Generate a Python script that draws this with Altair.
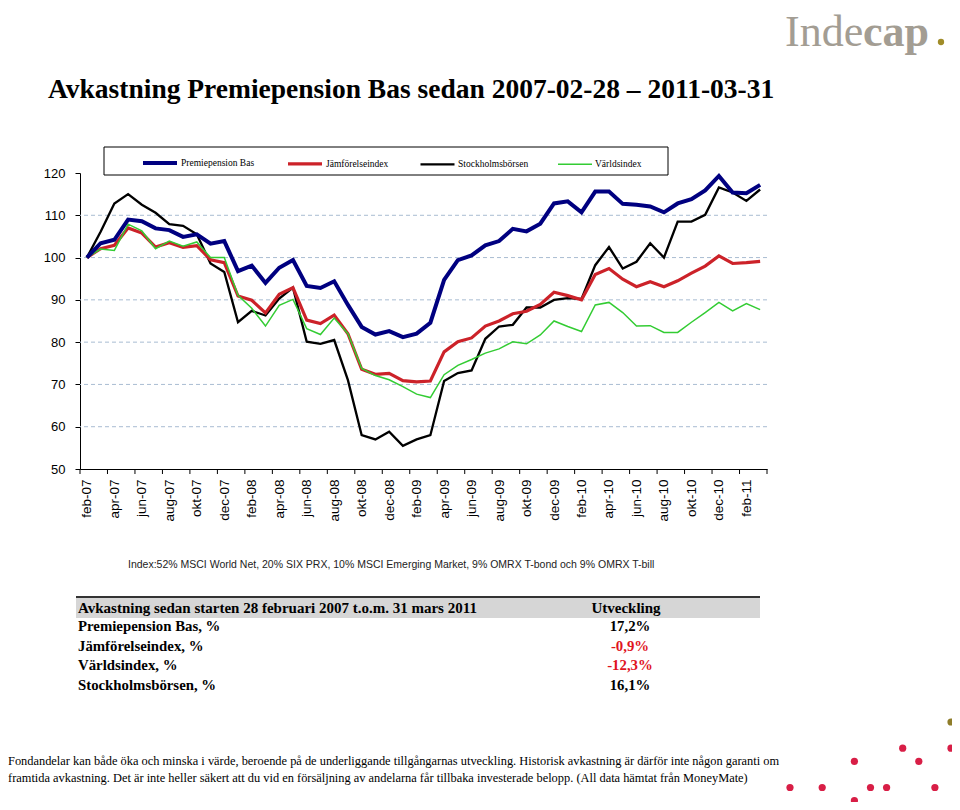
import json
import altair as alt
import pandas as pd

# ---------------- data ----------------
sv_months = ["jan", "feb", "mar", "apr", "maj", "jun", "jul", "aug", "sep", "okt", "nov", "dec"]
month_labels = [f"{sv_months[(1 + k) % 12]}-{7 + (1 + k) // 12:02d}" for k in range(50)]  # feb-07 .. mar-11

series_names = ["Premiepension Bas", "Jämförelseindex", "Stockholmsbörsen", "Världsindex"]

premiepension_bas = [100.0, 103.4, 104.2, 109.0, 108.6, 106.9, 106.5, 104.9, 105.5, 103.3,
                     103.9, 96.8, 98.1, 94.0, 97.6, 99.4, 93.3, 92.8, 94.4, 88.8,
                     83.6, 81.8, 82.6, 81.2, 82.0, 84.6, 94.7, 99.4, 100.5, 102.9,
                     103.9, 106.8, 106.2, 108.0, 112.8, 113.3, 110.7, 115.6, 115.6, 112.7,
                     112.5, 112.1, 110.7, 112.8, 113.8, 115.9, 119.3, 115.4, 115.2, 117.2]

jamforelseindex = [100.0, 102.1, 102.9, 107.0, 105.8, 102.5, 103.5, 102.4, 102.8, 99.5,
                   98.8, 90.9, 89.9, 86.9, 91.3, 92.9, 85.2, 84.4, 86.4, 82.0,
                   73.6, 72.4, 72.6, 70.9, 70.6, 70.8, 77.7, 80.1, 81.0, 83.8,
                   85.0, 86.7, 87.3, 88.9, 91.8, 91.0, 90.0, 96.0, 97.4, 94.9,
                   93.1, 94.3, 93.1, 94.5, 96.3, 98.0, 100.4, 98.6, 98.8, 99.1]

stockholmsborsen = [100.0, 106.1, 112.8, 115.0, 112.5, 110.6, 107.9, 107.5, 105.5, 98.6,
                    96.6, 84.7, 87.4, 86.3, 90.3, 92.9, 80.1, 79.6, 80.5, 71.0,
                    58.0, 57.0, 58.8, 55.5, 57.0, 58.0, 70.8, 72.7, 73.3, 80.8,
                    83.7, 84.1, 88.2, 88.2, 90.0, 90.4, 90.2, 98.2, 102.5, 97.4,
                    99.0, 103.4, 100.0, 108.5, 108.5, 110.1, 116.6, 115.4, 113.4, 116.1]

varldsindex = [100.0, 102.0, 101.7, 107.9, 106.3, 102.1, 103.9, 102.7, 103.7, 100.0,
               100.0, 91.1, 88.0, 83.8, 88.7, 90.1, 83.2, 81.8, 85.7, 82.0,
               73.8, 72.1, 71.1, 69.5, 67.7, 66.9, 72.3, 74.5, 75.9, 77.4,
               78.4, 80.1, 79.6, 81.7, 85.0, 83.7, 82.5, 88.8, 89.4, 87.0,
               83.8, 83.9, 82.3, 82.3, 84.7, 87.0, 89.4, 87.4, 89.1, 87.7]

y_tick_values = [50, 60, 70, 80, 90, 100, 110, 120]
grid_values = [60, 70, 80, 90, 100, 110]

table_header = "Avkastning sedan starten 28 februari 2007 t.o.m. 31 mars 2011"
table_header_right = "Utveckling"
table_rows = ["Premiepension Bas, %", "Jämförelseindex, %", "Världsindex, %", "Stockholmsbörsen, %"]
table_values = ["17,2%", "-0,9%", "-12,3%", "16,1%"]

title_text = "Avkastning Premiepension Bas sedan 2007-02-28 – 2011-03-31"
index_note = ("Index:52% MSCI World Net, 20% SIX PRX, 10% MSCI Emerging Market, "
              "9% OMRX T-bond och 9% OMRX T-bill")
disclaimer = [
    "Fondandelar kan både öka och minska i värde, beroende på de underliggande tillgångarnas "
    "utveckling. Historisk avkastning är därför inte någon garanti om",
    "framtida avkastning. Det är inte heller säkert att du vid en försäljning av andelarna får "
    "tillbaka investerade belopp. (All data hämtat från MoneyMate)",
]

# decorative logo dots (grid column / row) at bottom right
dot_col = [7, 10, 4, 8, 0, 2, 5, 6, 9, 4]
dot_row = [2, 2, 3, 3, 5, 5, 5, 5, 5, 6]

# ---------------- styles ----------------
series_colors = ["#000080", "#cc2229", "#000000", "#33cc33"]
series_widths = [4.0, 1.5, 1.5, 2.0]
W, H = 687, 296

# ---------------- build ----------------
draw_order = ["Stockholmsbörsen", "Jämförelseindex", "Världsindex", "Premiepension Bas"]
values_by_name = {
    "Premiepension Bas": premiepension_bas,
    "Jämförelseindex": jamforelseindex,
    "Stockholmsbörsen": stockholmsborsen,
    "Världsindex": varldsindex,
}
rows = []
for name in draw_order:
    for i, v in enumerate(values_by_name[name]):
        rows.append({"i": i, "month": month_labels[i], "series": name, "value": v})
df = pd.DataFrame(rows)

x_scale = alt.Scale(domain=[-0.5, 49.5], nice=False, zero=False)
y_scale = alt.Scale(domain=[50, 120], nice=False, zero=False)

label_expr = json.dumps(month_labels) + "[datum.value]"

x_axis = alt.Axis(
    values=list(range(0, 50, 2)), labelExpr=label_expr, labelAngle=270,
    labelAlign="right", labelBaseline="middle", labelFont="Liberation Sans",
    labelFontSize=13.5, labelColor="black", labelPadding=10, ticks=False, tickSize=0,
    domainColor="black", domainWidth=1, grid=False, title=None, labelOverlap=False,
    labelFlush=False, labelBound=False)
y_axis = alt.Axis(
    values=y_tick_values, grid=False, domainColor="black", tickColor="black",
    tickSize=5, labelFont="Liberation Sans", labelFontSize=13, labelColor="black",
    labelPadding=10, title=None, labelOverlap=False)

legend = alt.Legend(
    orient="none", legendX=61, legendY=-29, direction="horizontal", title=None,
    symbolType="stroke", symbolSize=1156, symbolStrokeWidth=2.5,
    labelFont="Liberation Serif", labelFontSize=9.5,
    labelColor="black", columnPadding=26, labelOffset=2, padding=0, zindex=1,
)

lines = alt.Chart(df).mark_line(strokeJoin="miter").encode(
    x=alt.X("i:Q", scale=x_scale, axis=x_axis),
    y=alt.Y("value:Q", scale=y_scale, axis=y_axis),
    color=alt.Color("series:N", scale=alt.Scale(domain=series_names, range=series_colors),
                    legend=legend),
    strokeWidth=alt.StrokeWidth("series:N",
                                scale=alt.Scale(domain=series_names, range=series_widths),
                                legend=None),
    detail="series:N",
)

grid = alt.Chart(pd.DataFrame({"v": grid_values})).mark_rule(
    color="#a9bcd2", strokeDash=[4, 3], strokeWidth=1
).encode(y=alt.Y("v:Q", scale=y_scale, axis=y_axis))

tick_positions = [k - 0.5 for k in range(0, 51, 2)]
xticks = alt.Chart(pd.DataFrame({"t": tick_positions})).mark_rule(color="black").encode(
    x=alt.X("t:Q", scale=x_scale, axis=x_axis), y=alt.value(H), y2=alt.value(H + 5)
)

legend_box = alt.Chart(pd.DataFrame({"a": [0]})).mark_rect(
    fill="white", stroke="black", strokeWidth=1
).encode(x=alt.value(24), x2=alt.value(588), y=alt.value(-26), y2=alt.value(2))


def txt(s, x, y, size, font="Liberation Serif", weight="normal", color="black",
        align="left", baseline="middle"):
    return alt.Chart(pd.DataFrame({"t": [s]})).mark_text(
        align=align, baseline=baseline, font=font, fontSize=size, fontWeight=weight,
        color=color
    ).encode(x=alt.value(x), y=alt.value(y), text="t:N")


texts = [
    txt(title_text, -32, -83, 27.5, weight="bold"),
    txt("Inde", 705, -127, 44, color="#a39d93", baseline="alphabetic"),
    txt("cap", 783, -127, 44, weight="bold", color="#a39d93", baseline="alphabetic"),
    txt(index_note, 48, 392, 10.5, font="Liberation Sans", color="#222222"),
    txt(disclaimer[0], -72, 588, 12.4),
    txt(disclaimer[1], -72, 605, 12.4),
]

header_rect = alt.Chart(pd.DataFrame({"a": [0]})).mark_rect(fill="#d6d6d6").encode(
    x=alt.value(-4), x2=alt.value(680), y=alt.value(424), y2=alt.value(445)
)
header_rule = alt.Chart(pd.DataFrame({"a": [0]})).mark_rule(color="#333333", strokeWidth=2).encode(
    x=alt.value(-4), x2=alt.value(680), y=alt.value(424)
)
texts += [header_rect, header_rule,
          txt(table_header, -2, 435, 15, weight="bold"),
          txt(table_header_right, 546, 435, 15, weight="bold", align="center")]
row_y = [454, 474, 493, 513]
value_colors = ["black", "#e0141e", "#e0141e", "black"]
for label, val, yy, c in zip(table_rows, table_values, row_y, value_colors):
    texts.append(txt(label, -2, yy, 14.8, weight="bold"))
    texts.append(txt(val, 550, yy, 14.8, weight="bold", color=c, align="center"))

logo_dot = alt.Chart(pd.DataFrame({"a": [0]})).mark_circle(color="#a08c28", opacity=1, size=40).encode(
    x=alt.value(861), y=alt.value(-131)
)
gold_dot = alt.Chart(pd.DataFrame({"a": [0]})).mark_circle(color="#8f7d2a", opacity=1, size=52).encode(
    x=alt.value(871), y=alt.value(549)
)

# decorative dot pattern: grid cells -> pixels (16.1 px columns, 13.1 px rows)
dots = alt.Chart(pd.DataFrame({"col": dot_col, "row": dot_row})).transform_calculate(
    px="710 + datum.col * 16.1", py="549 + datum.row * 13.1"
).mark_circle(color="#d81e46", opacity=1, size=52).encode(
    x=alt.X("px:Q", scale=None), y=alt.Y("py:Q", scale=None)
)

chart = alt.layer(grid, legend_box, lines, xticks, dots, gold_dot, logo_dot, *texts).properties(
    width=W, height=H,
    padding={"left": 72, "top": 165, "right": 185, "bottom": 333},
    autosize=alt.AutoSizeParams(type="none"),
).configure_view(stroke=None).configure_axis(labelOverlap=False)

chart.save("out.html", embed_options={"renderer": "svg", "actions": False})
